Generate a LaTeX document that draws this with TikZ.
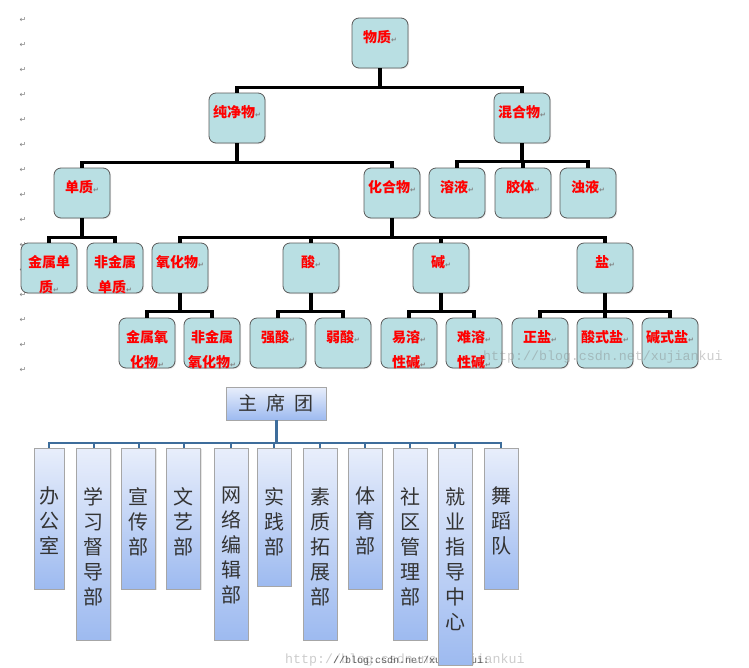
\documentclass[tikz,border=0pt]{standalone}
\usepackage{fontspec}
\newfontfamily\cjk{Noto Sans CJK SC}
\newfontfamily\dejavu{DejaVu Sans}
\newfontfamily\monof{Liberation Mono}
\usetikzlibrary{shadows}
\definecolor{boxfill}{HTML}{B9DFE3}
\definecolor{boxline}{HTML}{5A5A5A}
\definecolor{redtxt}{HTML}{FF0000}
\definecolor{orgline}{HTML}{3E6D9B}
\definecolor{orgtop}{HTML}{E8EEFB}
\definecolor{orgbot}{HTML}{9DBAF0}
\newcommand\rmk{{\dejavu\fontsize{7}{7}\selectfont\textcolor{gray}{↵}}}
\newcommand\tnode[3]{\node[tbox] (#1) at (#2) {}; \node[tlbl] (#1t) at ([yshift=-12.5pt]#1.north) {#3};}
\newcommand\onode[5]{\node[obox, minimum width=#3pt, minimum height=#4pt] (#1) at (#2,448) {}; \node[olbl] (#1t) at (#2,487) {#5};}
\begin{document}
\begin{tikzpicture}[x=1pt,y=-1pt,
 tbox/.style={draw=boxline, line width=0.8pt, fill=boxfill, rounded corners=7pt, minimum width=56pt, minimum height=50pt, inner sep=0pt, drop shadow={opacity=0.2,shadow xshift=1pt,shadow yshift=-1pt}},
 tlbl/.style={anchor=north, inner sep=0pt, align=center, text=redtxt, font=\cjk\bfseries\fontsize{14}{25}\selectfont},
 conn/.style={line width=3.5pt, black},
 obox/.style={draw=gray!70, line width=0.6pt, top color=orgtop, bottom color=orgbot, inner sep=0pt, anchor=north, drop shadow={opacity=0.2,shadow xshift=1pt,shadow yshift=-1pt}},
 olbl/.style={anchor=north, inner sep=0pt, align=center, text=black!80, font=\cjk\fontsize{20}{25}\selectfont},
 oconn/.style={line width=2pt, orgline},
 retmk/.style={inner sep=0pt, font=\dejavu\fontsize{8}{8}\selectfont, text=gray}
]
\useasboundingbox (0,0) rectangle (749,667);
% left margin paragraph marks
\foreach \yy [count=\i] in {20,45,70,95,120,145,170,195,220,245,270,295,320,345,370}
  \node[retmk] (pm\i) at (23,\yy) {↵};
% top tree boxes
\tnode{wz}{380,43}{物质\rmk}
\tnode{cjw}{237,118}{纯净物\rmk}
\tnode{hhw}{522,118}{混合物\rmk}
\tnode{dz}{82,193}{单质\rmk}
\tnode{hhw2}{392,193}{化合物\rmk}
\tnode{ry}{457,193}{溶液\rmk}
\tnode{jt}{523,193}{胶体\rmk}
\tnode{zy}{588,193}{浊液\rmk}
\tnode{jsdz}{49,268}{金属单\\质\rmk}
\tnode{fjsdz}{115,268}{非金属\\单质\rmk}
\tnode{yhw}{180,268}{氧化物\rmk}
\tnode{suan}{311,268}{酸\rmk}
\tnode{jian}{441,268}{碱\rmk}
\tnode{yan}{605,268}{盐\rmk}
\tnode{jsyhw}{147,343}{金属氧\\化物\rmk}
\tnode{fjsyhw}{212,343}{非金属\\氧化物\rmk}
\tnode{qs}{278,343}{强酸\rmk}
\tnode{rs}{343,343}{弱酸\rmk}
\tnode{yrxj}{409,343}{易溶\rmk\\性碱\rmk}
\tnode{nrxj}{474,343}{难溶\rmk\\性碱\rmk}
\tnode{zhy}{540,343}{正盐\rmk}
\tnode{sss}{605,343}{酸式盐\rmk}
\tnode{jss}{670,343}{碱式盐\rmk}
% top tree connectors
\foreach \c in {cjw,hhw} \draw[conn] (wz.south) -- ++(0,19) -| (\c.north);
\foreach \c in {dz,hhw2} \draw[conn] (cjw.south) -- ++(0,19) -| (\c.north);
\foreach \c in {ry,jt,zy} \draw[conn] (hhw.south) -- ++(0,18) -| (\c.north);
\foreach \c in {jsdz,fjsdz} \draw[conn] (dz.south) -- ++(0,19) -| (\c.north);
\foreach \c in {yhw,suan,jian,yan} \draw[conn] (hhw2.south) -- ++(0,19) -| (\c.north);
\foreach \c in {jsyhw,fjsyhw} \draw[conn] (yhw.south) -- ++(0,18) -| (\c.north);
\foreach \c in {qs,rs} \draw[conn] (suan.south) -- ++(0,18) -| (\c.north);
\foreach \c in {yrxj,nrxj} \draw[conn] (jian.south) -- ++(0,18) -| (\c.north);
\foreach \c in {zhy,sss,jss} \draw[conn] (yan.south) -- ++(0,18) -| (\c.north);
% watermark top
\node[anchor=west, inner sep=0pt, font=\monof\fontsize{13.3}{14}\selectfont, text=gray, opacity=0.4] (wm1) at (483,357) {http://blog.csdn.net/xujiankui};
% watermark bottom
\node[anchor=west, inner sep=0pt, font=\monof\fontsize{13.3}{14}\selectfont, text=gray, opacity=0.4] (wm2) at (285,660) {http://blog.csdn.net/xujiankui};
\node[anchor=west, inner sep=0pt, font=\monof\fontsize{10}{10}\selectfont, text=black, opacity=0.6] (wm3) at (333,661) {//blog:csdn.net/xujiankui:};
% org chart
\node[obox, anchor=center, minimum width=100pt, minimum height=33pt, text=black!80, font=\cjk\fontsize{19}{20}\selectfont] (zxt) at (276,403.5) {主\hspace{9pt}席\hspace{9pt}团};
\onode{b1}{49}{30}{141}{办\\公\\室}
\onode{b2}{93.5}{34}{192}{学\\习\\督\\导\\部}
\onode{b3}{138.5}{34}{141}{宣\\传\\部}
\onode{b4}{183.5}{34}{141}{文\\艺\\部}
\onode{b5}{231}{34}{192}{网\\络\\编\\辑\\部}
\onode{b6}{274}{34}{138}{实\\践\\部}
\onode{b7}{320}{34}{192}{素\\质\\拓\\展\\部}
\onode{b8}{365}{34}{141}{体\\育\\部}
\onode{b9}{410}{34}{192}{社\\区\\管\\理\\部}
\onode{b10}{455}{34}{217}{就\\业\\指\\导\\中\\心}
\onode{b11}{501}{34}{141}{舞\\蹈\\队}
\draw[oconn, line width=3pt] (zxt.south) -- ++(0,23);
\foreach \c in {b1,b2,b3,b4,b5,b6,b7,b8,b9,b10,b11} \draw[oconn] (zxt.south) -- ++(0,23) -| (\c.north);
\end{tikzpicture}
\end{document}
